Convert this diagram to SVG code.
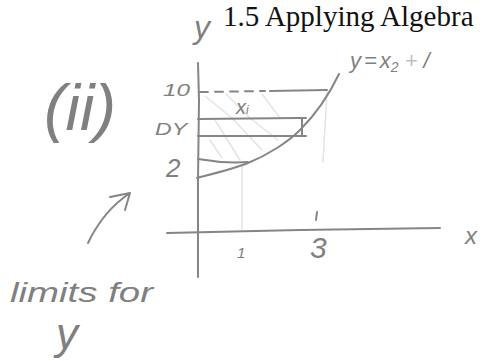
<svg xmlns="http://www.w3.org/2000/svg" width="490" height="361" viewBox="0 0 490 361">
<style>
.ink{fill:none;stroke:#858585;stroke-width:2;stroke-linecap:round;stroke-linejoin:round}
.faint{fill:none;stroke:#e4e4e4;stroke-width:1.5;stroke-linecap:round}
.hw{fill:#808080;font-family:"Liberation Sans",Arial,sans-serif;font-style:italic}
.title{fill:#111;font-family:"Liberation Serif","Times New Roman",serif;font-size:29px}
</style>
<rect width="490" height="361" fill="#fff"/>
<text class="title" x="223" y="26">1.5 Applying Algebra</text>
<g id="shading">
<path class="faint" d="M215,120 L240,160 M232,118 L262,150 M250,118 L278,140 M205,96 L232,118 M226,94 L250,118 M262,94 L280,118 M210,140 L222,158"/>
<path class="faint" d="M242,165 L242,230 M327,92 L323,162"/>
</g>
<g id="axes">
<path class="ink" d="M198,63 L199,100 L198,180 L198,277"/>
<path class="ink" d="M167,233 L300,230 L440,228"/>
<path class="ink" d="M317,212 L316,220"/>
</g>
<g id="curve">
<path class="ink" d="M197,178 C220,172 236,168 248,163 C268,155 288,142 300,130 C316,114 329,95 339,74"/>
</g>
<g id="levels">
<path class="ink" stroke-dasharray="8,7" d="M200,92 L265,91"/>
<path class="ink" d="M270,91 L327,90"/>
<path class="ink" d="M198,119 L299,118"/>
<path class="ink" d="M198,136 L299,136"/>
<path class="ink" d="M302,118 L302,136 M298,118 L306,118 M298,136 L306,136"/>
<path class="ink" d="M198,159 C215,162 232,163 248,162"/>
</g>
<g id="arrow">
<path class="ink" d="M88,243 C98,222 112,205 130,193 M110,197 L130,193 L125,210"/>
</g>
<g id="labels">
<text class="hw" x="194" y="38" font-size="32">y</text>
<text class="hw" x="350" y="68" font-size="22">y<tspan dx="3">=</tspan><tspan dx="3">x</tspan><tspan font-size="14" dy="4">2</tspan><tspan dy="-4" dx="6" fill="#c0c0c0">+</tspan><tspan dx="6">/</tspan></text>
<text class="hw" x="44" y="130" font-size="64" textLength="72" lengthAdjust="spacingAndGlyphs">(ii)</text>
<text class="hw" x="163" y="96" font-size="17" textLength="27" lengthAdjust="spacingAndGlyphs">10</text>
<text class="hw" x="155" y="135" font-size="17" textLength="32" lengthAdjust="spacingAndGlyphs">DY</text>
<text class="hw" x="166" y="177" font-size="26">2</text>
<text class="hw" x="236" y="114" font-size="20">x<tspan font-size="12">i</tspan></text>
<text class="hw" x="310" y="258" font-size="30">3</text>
<text class="hw" x="237" y="258" font-size="15" fill="#b0b0b0">1</text>
<text class="hw" x="465" y="244" font-size="24">x</text>
<text class="hw" x="10" y="302" font-size="27" textLength="143" lengthAdjust="spacingAndGlyphs">limits for</text>
<text class="hw" x="56" y="349" font-size="44">y</text>
</g>
</svg>
